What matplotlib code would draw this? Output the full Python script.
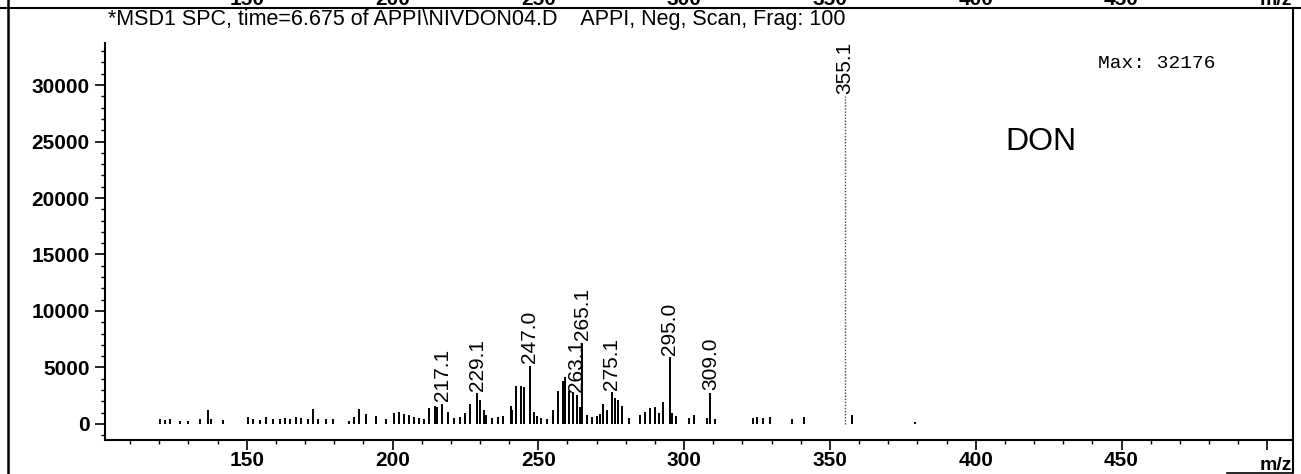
import matplotlib.pyplot as plt
import matplotlib.transforms as mtransforms
from matplotlib.lines import Line2D

plt.rcParams['font.family'] = ['Liberation Sans', 'DejaVu Sans']

# Spectrum sticks (m/z, abundance)
mz = [120.2, 122.0, 123.7, 127.0, 129.9, 134.0, 136.8, 137.9, 141.9, 150.4,
      152.0, 154.4, 156.7, 158.9, 161.3, 163.0, 164.7, 167.0, 168.7, 171.0,
      172.7, 174.4, 177.3, 179.5, 185.2, 186.9, 188.6, 190.9, 194.3, 197.8,
      200.6, 202.3, 204.0, 205.7, 207.5, 209.2, 210.9, 212.6, 214.6, 215.3,
      217.1, 219.1, 221.0, 223.0, 224.8, 226.5, 229.1, 230.0, 231.2, 232.2,
      234.0, 236.0, 238.0, 240.5, 240.9, 242.3, 243.9, 245.0, 247.0, 248.4,
      249.5, 251.0, 253.0, 255.2, 256.7, 258.3, 259.2, 260.6, 262.0, 263.1,
      264.3, 265.1, 266.8, 268.5, 270.0, 271.0, 272.3, 273.5, 275.1, 276.3,
      277.4, 278.6, 281.0, 284.8, 286.5, 288.2, 289.9, 291.5, 292.8, 295.0,
      296.0, 297.3, 301.7, 303.4, 307.9, 309.0, 310.5, 323.5, 325.0, 327.0,
      329.5, 337.0, 341.0, 357.6, 379.2]
abundance = [420, 350, 420, 300, 300, 420, 1240, 420, 350, 590,
             420, 350, 590, 420, 420, 500, 420, 590, 500, 420,
             1300, 420, 420, 420, 300, 590, 1300, 880, 710, 420,
             950, 1090, 880, 800, 590, 500, 420, 1390, 1590, 1500,
             1800, 1090, 500, 600, 940, 1770, 2700, 2120, 1240, 800,
             500, 600, 700, 1590, 1240, 3390, 3390, 3240, 5130, 1090,
             700, 500, 400, 1240, 2950, 3770, 4190, 2950, 2800, 2600,
             1500, 7200, 800, 600, 700, 900, 1770, 1200, 2800, 2270,
             2120, 1590, 500, 800, 1090, 1390, 1530, 1000, 1970, 5900,
             940, 700, 500, 800, 500, 2750, 400, 500, 600, 550,
             650, 400, 600, 800, 200]

# Base peak (drawn dotted in the scan)
base_mz = 355.1
base_abundance = 29000

labelled = [217.1, 229.1, 247.0, 263.1, 265.1, 275.1, 295.0, 309.0]

y_ticks = [0, 5000, 10000, 15000, 20000, 25000, 30000]
x_ticks = [150, 200, 250, 300, 350, 400, 450, 500]
x_ticklabels = ['150', '200', '250', '300', '350', '400', '450', '']

title = '*MSD1 SPC, time=6.675 of APPI\\NIVDON04.D    APPI, Neg, Scan, Frag: 100'

W, H = 1301, 474
fig = plt.figure(figsize=(W / 100, H / 100), dpi=100)
ax = fig.add_axes([105 / W, 1 - 440 / H, (1293 - 105) / W, (440 - 43) / H])

ax.vlines(mz, 0, abundance, color='black', linewidth=1.4)
ax.vlines([base_mz], 0, [base_abundance], color='#444444', linewidth=1.0,
          linestyles=[(0, (1, 1.2))])

# peak labels, rotated above each labelled stick
for m, a in zip(mz, abundance):
    if m in labelled:
        ax.annotate(f'{m:.1f}', (m, a), xytext=(0, 2), textcoords='offset points',
                    rotation=90, ha='center', va='bottom', fontsize=15)
ax.annotate(f'{base_mz:.1f}', (base_mz, base_abundance), xytext=(0, 2),
            textcoords='offset points', rotation=90, ha='center', va='bottom', fontsize=15)

ax.set_xlim(101.4, 508.8)
ax.set_ylim(-1420, 33720)
ax.set_yticks(y_ticks)
ax.set_yticks(range(-1000, 34000, 1000), minor=True)
ax.set_xticks(x_ticks)
ax.set_xticklabels(x_ticklabels)
ax.set_xticks(range(110, 510, 10), minor=True)
ax.tick_params(which='major', direction='out', length=7.5, width=1.2, labelsize=15)
ax.tick_params(which='minor', direction='out', length=3, width=1.0)
ax.tick_params(axis='x', which='major', pad=0.3)
ax.tick_params(axis='y', which='major', pad=3.6)
for lab in ax.get_xticklabels() + ax.get_yticklabels():
    lab.set_fontweight('bold')

ax.spines['top'].set_visible(False)
ax.spines['right'].set_visible(False)
ax.spines['left'].set_linewidth(1.5)
ax.spines['bottom'].set_linewidth(1.5)

ax.text(0.836, 0.9496, 'Max: 32176', transform=ax.transAxes, ha='left', va='center',
        fontsize=14, family='Liberation Mono')
ax.text(0.788, 0.7506, 'DON', transform=ax.transAxes, ha='center', va='center', fontsize=23)

fig.text(108 / W, 1 - 20 / H, title, ha='left', va='center', fontsize=15.5)

# outer frame of the printout
fig.add_artist(Line2D([0, 1], [1 - 8 / H, 1 - 8 / H], color='black', linewidth=1.5))
fig.add_artist(Line2D([8 / W, 8 / W], [0, 1], color='black', linewidth=1.8))
fig.add_artist(Line2D([1293 / W, 1293 / W], [1 - 472 / H, 1 - 8 / H], color='black', linewidth=1.5))

# cropped axis labels of the panel above (cut by the page edge in the scan)
top = mtransforms.blended_transform_factory(ax.transData, fig.transFigure)
for t in x_ticks[:-1]:
    fig.text(t, 1 - 5 / H, str(t), transform=top, ha='center', va='baseline',
             fontsize=15, fontweight='bold')
fig.text(1292 / W, 1 - 5 / H, 'm/z', ha='right', va='baseline', fontsize=14, fontweight='bold')

# m/z label with underline at lower right
fig.text(1292 / W, 1 - 470 / H, 'm/z', ha='right', va='baseline', fontsize=14, fontweight='bold')
fig.add_artist(Line2D([1227 / W, 1293 / W], [1 - 473 / H, 1 - 473 / H], color='black', linewidth=1.2))

plt.savefig('out.png', dpi=100)
plt.close()
